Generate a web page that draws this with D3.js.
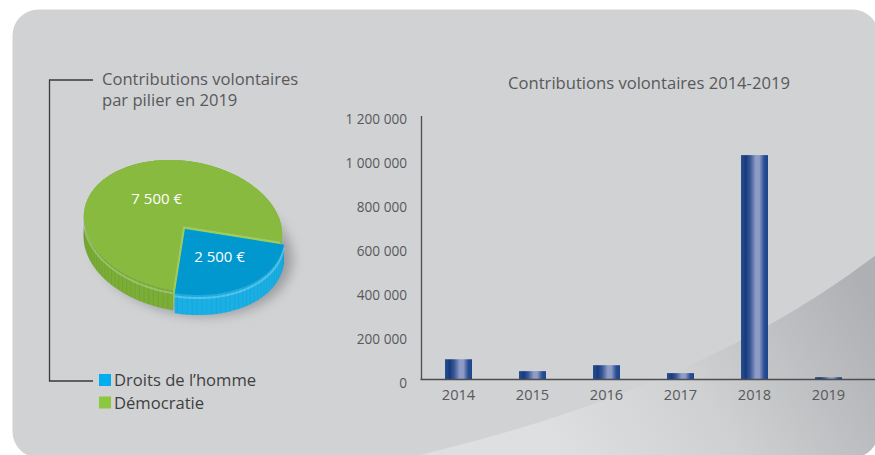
<!DOCTYPE html>
<html lang="fr">
<head>
  <meta charset="UTF-8">
  <title>Contributions volontaires</title>
  <style>
    html, body { margin: 0; background: #fff; }
    svg { display: block; font-family: 'Open Sans', sans-serif; }
  </style>
  <script src="https://cdn.jsdelivr.net/npm/d3@7/dist/d3.min.js"></script>
</head>
<body>
  <script>
    // données
    const years = ['2014', '2015', '2016', '2017', '2018', '2019']
    const contributions = [92000, 38000, 65000, 29000, 1020000, 10500]
    const yTicks = [0, 200000, 400000, 600000, 800000, 1000000, 1200000]

    const pillars = ['Droits de l’homme', 'Démocratie']
    const pillarValues = [2500, 7500]
    const pillarColors = ['#0098cf', '#88ba3f']
    const pillarSides = ['#1ab0e6', '#7aae37']
    const legendColors = ['#00adef', '#8dc63f']

    const width = 875
    const height = 455
    const textColor = '#58595b'

    const fr = d3.formatLocale({ decimal: ',', thousands: ' ', grouping: [3], currency: ['', ' €'] })
    const fmt = fr.format(',')

    const svg = d3.select('body').append('svg')
      .attr('width', width)
      .attr('height', height)

    const defs = svg.append('defs')

    // fond (panneau gris + courbe)
    const swooshGrad = defs.append('linearGradient').attr('id', 'swoosh')
      .attr('gradientUnits', 'userSpaceOnUse')
      .attr('x1', 860).attr('y1', 280).attr('x2', 560).attr('y2', 460)
    swooshGrad.append('stop').attr('offset', 0).attr('stop-color', '#afb0b3')
    swooshGrad.append('stop').attr('offset', 0.55).attr('stop-color', '#cfd0d2')
    swooshGrad.append('stop').attr('offset', 1).attr('stop-color', '#dedfe1')

    defs.append('clipPath').attr('id', 'panelClip')
      .append('rect').attr('x', 12.5).attr('y', 9.5).attr('width', 866).attr('height', 448).attr('rx', 26)

    const bg = svg.append('g').attr('clip-path', 'url(#panelClip)')
    bg.append('rect').attr('x', 0).attr('y', 0).attr('width', width).attr('height', height).attr('fill', '#d1d2d4')
    bg.append('path')
      .attr('d', 'M398,460 Q700,392 880,252 L880,460 Z')
      .attr('fill', 'url(#swoosh)')

    // ---------- histogramme ----------
    const x = d3.scaleBand()
      .domain(years)
      .range([421.5, 865.5])
      .paddingInner(0.635)
      .paddingOuter(0.3175)

    const y = d3.scaleLinear()
      .domain([0, 1200000])
      .range([379.5, 115.5])

    const barGrad = defs.append('linearGradient').attr('id', 'bar')
      .attr('x1', 0).attr('x2', 1).attr('y1', 0).attr('y2', 0)
    ;[[0, '#24508f'], [0.18, '#183a7e'], [0.35, '#3d5a98'], [0.55, '#909ec7'], [0.68, '#8c9ac4'], [0.86, '#2a4d93'], [1, '#1b4590']]
      .forEach(([o, c]) => barGrad.append('stop').attr('offset', o).attr('stop-color', c))

    svg.append('g').selectAll('rect')
      .data(contributions)
      .join('rect')
      .attr('x', (d, i) => x(years[i]))
      .attr('y', d => y(d))
      .attr('width', x.bandwidth())
      .attr('height', d => y(0) - y(d))
      .attr('fill', 'url(#bar)')

    const gy = svg.append('g')
      .attr('transform', 'translate(421,0)')
      .call(d3.axisLeft(y).tickValues(yTicks).tickFormat(fmt).tickSize(0).tickPadding(14))
    gy.select('.domain').attr('stroke', '#4d4d4f').attr('stroke-width', 1.3)
    gy.selectAll('text')
      .attr('dy', 8)
      .attr('fill', textColor)
      .style('font-size', '13.6px')
      .style('font-family', 'Open Sans')

    svg.append('line')
      .attr('x1', 420.5).attr('x2', width)
      .attr('y1', y(0)).attr('y2', y(0))
      .attr('stroke', '#4d4d4f').attr('stroke-width', 1.3)

    const gx = svg.append('g')
      .attr('transform', `translate(0,${y(0)})`)
      .call(d3.axisBottom(x).tickSize(0).tickPadding(8))
    gx.select('.domain').remove()
    gx.selectAll('text')
      .attr('dy', 0)
      .attr('y', 20.5)
      .attr('fill', textColor)
      .style('font-size', '14.6px')
      .style('font-family', 'Open Sans')

    svg.append('text')
      .attr('x', 649).attr('y', 89)
      .attr('text-anchor', 'middle')
      .attr('fill', textColor)
      .style('font-size', '16.6px')
      .text('Contributions volontaires 2014-2019')

    // ---------- camembert 3D ----------
    const cx = 183, cy = 226, rx = 100, ry = 65, depth = 20
    const rot = 9 * Math.PI / 180
    const pt = (a, k = 1) => [
      cx + k * (rx * Math.cos(a) * Math.cos(rot) - ry * Math.sin(a) * Math.sin(rot)),
      cy + k * (rx * Math.cos(a) * Math.sin(rot) + ry * Math.sin(a) * Math.cos(rot))
    ]

    const pie = d3.pie().sort(null).startAngle(Math.PI / 2).endAngle(Math.PI / 2 + 2 * Math.PI)
    const arcs = pie(pillarValues)
    const shift = [[2, 3], [0, 0]]

    const shadowFilter = defs.append('filter').attr('id', 'blur').attr('x', '-30%').attr('y', '-30%').attr('width', '160%').attr('height', '160%')
    shadowFilter.append('feGaussianBlur').attr('stdDeviation', 6)
    svg.append('ellipse')
      .attr('cx', cx + 10).attr('cy', cy + 24)
      .attr('rx', rx).attr('ry', ry)
      .attr('transform', `rotate(9,${cx + 10},${cy + 24})`)
      .attr('fill', '#6f7073').attr('opacity', 0.55)
      .attr('filter', 'url(#blur)')

    const pieG = svg.append('g')
    const line = d3.line()

    // vert d'abord (derrière), puis bleu
    ;[1, 0].forEach(i => {
      const s = arcs[i]
      const a0 = s.startAngle - Math.PI / 2
      const a1 = s.endAngle - Math.PI / 2
      const n = Math.max(8, Math.round((a1 - a0) * 40))
      const top = d3.range(n + 1).map(j => pt(a0 + (a1 - a0) * j / n))
      const bot = top.map(p => [p[0], p[1] + depth]).reverse()
      const g = pieG.append('g').attr('transform', `translate(${shift[i][0]},${shift[i][1]})`)

      // faces radiales
      ;[a0, a1].forEach(a => {
        const p = pt(a)
        g.append('path')
          .attr('d', line([[cx, cy], p, [p[0], p[1] + depth], [cx, cy + depth]]) + 'Z')
          .attr('fill', i === 1 ? '#9dcd52' : '#2cb9ee')
      })
      // paroi extérieure
      g.append('path')
        .attr('d', line(top.concat(bot)) + 'Z')
        .attr('fill', pillarSides[i])
      // stries verticales
      top.forEach((p, j) => {
        if (j % 2) return
        g.append('line')
          .attr('x1', p[0]).attr('x2', p[0])
          .attr('y1', p[1]).attr('y2', p[1] + depth)
          .attr('stroke', '#000').attr('stroke-opacity', 0.06)
      })
      // liseré clair
      g.append('path')
        .attr('d', line(top.map(p => [p[0], p[1] + 3])))
        .attr('fill', 'none')
        .attr('stroke', '#fff').attr('stroke-opacity', 0.25).attr('stroke-width', 2)
      // dessus
      g.append('path')
        .attr('d', line([[cx, cy]].concat(top)) + 'Z')
        .attr('fill', pillarColors[i])
    })

    // étiquettes
    const labelK = [0.52, 0.5]
    const labelOff = [[4, 2], [5, 1]]
    arcs.forEach((s, i) => {
      const mid = (s.startAngle + s.endAngle) / 2 - Math.PI / 2
      const p = pt(mid, labelK[i])
      svg.append('text')
        .attr('x', p[0] + labelOff[i][0]).attr('y', p[1] + labelOff[i][1] + 5)
        .attr('text-anchor', 'middle')
        .attr('fill', '#fff')
        .style('font-size', '15px')
        .text(fr.format('$,')(s.data))
    })

    // titre + accolade
    svg.append('path')
      .attr('d', 'M93,80H49.5V381H93')
      .attr('fill', 'none')
      .attr('stroke', '#3a3a3c').attr('stroke-width', 1.3)

    const title = svg.append('text')
      .attr('x', 102).attr('y', 85)
      .attr('fill', textColor)
      .style('font-size', '16.6px')
    title.append('tspan').attr('x', 102).text('Contributions volontaires')
    title.append('tspan').attr('x', 102).attr('dy', 21).text('par pilier en 2019')

    // légende
    const legend = svg.append('g').selectAll('g')
      .data(pillars)
      .join('g')
      .attr('transform', (d, i) => `translate(99,${374 + i * 22.5})`)
    legend.append('rect')
      .attr('width', 12).attr('height', 12)
      .attr('fill', (d, i) => legendColors[i])
    legend.append('text')
      .attr('x', 15).attr('y', 12)
      .attr('fill', '#3f3f41')
      .style('font-size', '16.6px')
      .text(d => d)
  </script>
</body>
</html>
